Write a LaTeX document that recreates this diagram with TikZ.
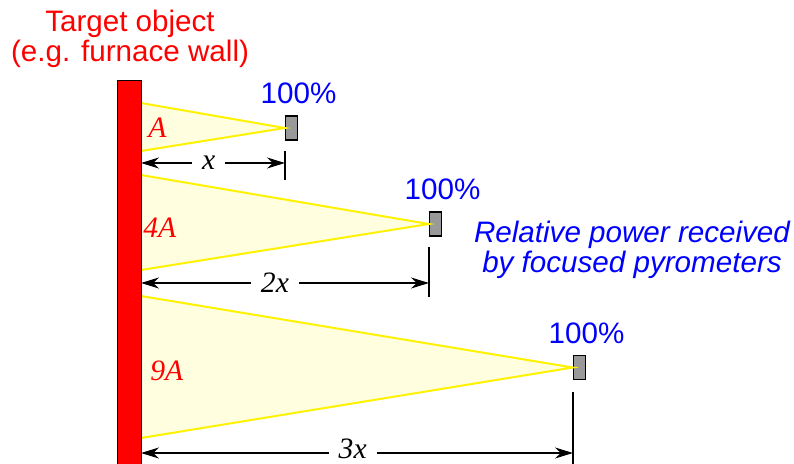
\documentclass[tikz,border=0pt]{standalone}
\usepackage{fontspec}
\setmainfont{Liberation Sans}
\newfontfamily\varfont{Liberation Serif}
\usetikzlibrary{arrows.meta,positioning}
\definecolor{conefill}{RGB}{255,255,224}
\definecolor{sensorgray}{RGB}{153,153,153}
\tikzset{
  wall/.style={draw=black, fill=red, line width=0.5pt},
  cone/.style={draw=yellow, fill=conefill, line width=1pt},
  sensor/.style={draw=black, fill=sensorgray, line width=0.7pt, minimum width=6pt, minimum height=12pt, inner sep=0pt},
  pctlabel/.style={text=blue, inner sep=0pt},
  dimarrow/.style={{Stealth[length=9pt,width=5.5pt]}-{Stealth[length=9pt,width=5.5pt]}, line width=0.75pt},
  dimlabel/.style={fill=white, inner xsep=5pt, inner ysep=0pt, font=\varfont\itshape},
  tickline/.style={line width=0.75pt},
  arealabel/.style={text=red, font=\varfont\itshape, anchor=base west, inner sep=0pt},
}
\begin{document}
\fontsize{14.8}{15}\selectfont
\begin{tikzpicture}[x=0.5pt, y=0.5pt]
  \useasboundingbox (0,0) rectangle (794,463);

  % pyrometers
  \node[sensor] (s1) at (291.5,335) {};
  \node[sensor] (s2) at (435.5,239) {};
  \node[sensor] (s3) at (579.5,95.5) {};

  % viewing cones (drawn under the wall)
  \coordinate (w1t) at (141,360);
  \coordinate (w1b) at (141,312);
  \coordinate (w2t) at (141,288);
  \coordinate (w2b) at (141,193);
  \coordinate (w3t) at (141,167);
  \coordinate (w3b) at (141,25);
  \path[cone] (w1t) -- (s1.west) -- (w1b);
  \path[cone] (w2t) -- (s2.west) -- (w2b);
  \path[cone] (w3t) -- (s3.west) -- (w3b);

  % target wall
  \draw[wall] (117,383) rectangle (141,-10);

  % spot areas
  \node[arealabel] (a1) at (148,326) {A};
  \node[arealabel] (a2) at (143,226) {4A};
  \node[arealabel] (a3) at (150,83) {9A};

  % received power
  \node[pctlabel, above=5.5pt of s1, xshift=3.5pt] (p1) {100\%};
  \node[pctlabel, above=5.5pt of s2, xshift=3.5pt] (p2) {100\%};
  \node[pctlabel, above=5.5pt of s3, xshift=3.5pt] (p3) {100\%};

  % distances
  \coordinate (t1a) at (285,312);
  \coordinate (t1b) at (285,283);
  \coordinate (t2a) at (429,216);
  \coordinate (t2b) at (429,166);
  \coordinate (t3a) at (573,71);
  \coordinate (t3b) at (573,-5);
  \draw[tickline] (t1a) -- (t1b);
  \draw[tickline] (t2a) -- (t2b);
  \draw[tickline] (t3a) -- (t3b);
  \coordinate (d1l) at (141,300);
  \coordinate (d1r) at (285,300);
  \coordinate (d2l) at (141,180);
  \coordinate (d2r) at (429,180);
  \coordinate (d3l) at (141,10);
  \coordinate (d3r) at (573,10);
  \draw[dimarrow] (d1l) -- node[dimlabel, pos=0.47] (x1) {x} (d1r);
  \draw[dimarrow] (d2l) -- node[dimlabel, pos=0.465] (x2) {2x} (d2r);
  \draw[dimarrow] (d3l) -- node[dimlabel, pos=0.49, yshift=2pt] (x3) {3x} (d3r);

  % captions
  \node[text=red, align=center] (target) at (130,424) {Target object\\(e.g. furnace wall)};
  \node[text=blue, align=center, font=\itshape] (caption) at (632,213.5) {Relative power received\\by focused pyrometers};
\end{tikzpicture}
\end{document}
